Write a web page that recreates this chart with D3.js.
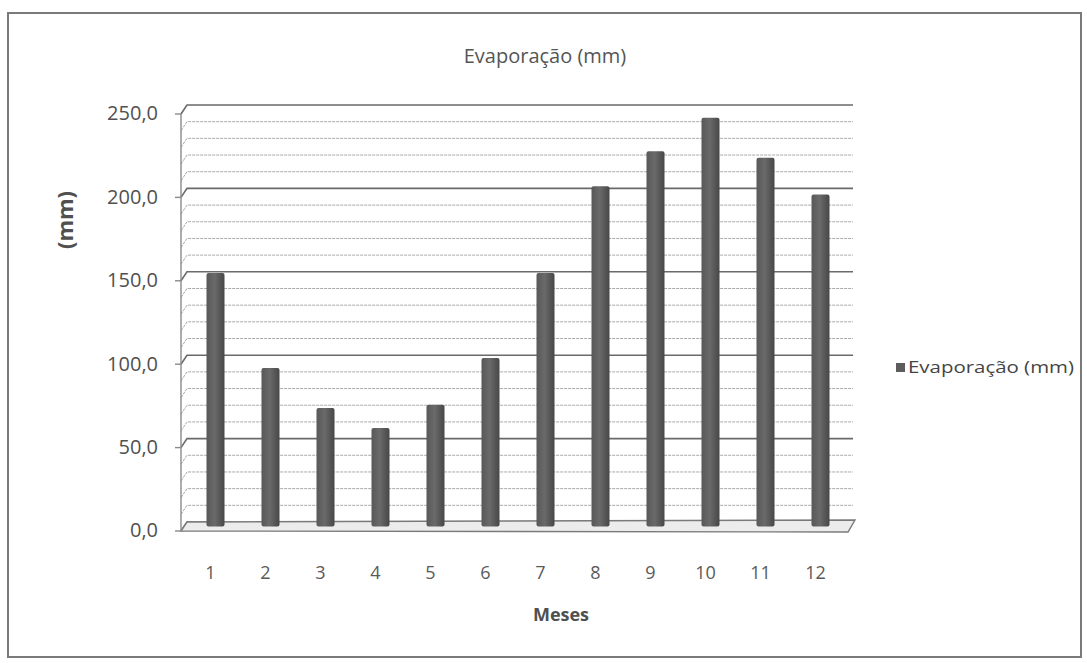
<!DOCTYPE html>
<html>
<head>
<meta charset="utf-8">
<script src="https://cdn.jsdelivr.net/npm/d3@7"></script>
<style>
  body { margin: 0; background: #fff; }
  svg { display: block; }
  text { font-family: "Open Sans", "Lato", sans-serif; }
</style>
</head>
<body>
<div id="chart"></div>
<script>
// dados do gráfico
const meses = ['1', '2', '3', '4', '5', '6', '7', '8', '9', '10', '11', '12'];
const evaporacao = [152, 95, 71, 59, 73, 101, 152, 204, 225, 245, 221, 199];
const yTicks = [0, 50, 100, 150, 200, 250];
const yGrid = d3.range(0, 251, 10);
const titulo = 'Evaporação (mm)';
const serieNome = 'Evaporação (mm)';

const width = 1087, height = 663;

const svg = d3.select('#chart').append('svg')
    .attr('width', width)
    .attr('height', height);

const defs = svg.append('defs');
const grad = defs.append('linearGradient').attr('id', 'barGrad')
    .attr('x1', '0%').attr('x2', '100%');
grad.append('stop').attr('offset', '0%').attr('stop-color', '#585858');
grad.append('stop').attr('offset', '45%').attr('stop-color', '#6a6a6a');
grad.append('stop').attr('offset', '100%').attr('stop-color', '#474747');

// moldura do gráfico
svg.append('rect')
    .attr('x', 8).attr('y', 13)
    .attr('width', 1073).attr('height', 644)
    .attr('fill', 'none')
    .attr('stroke', '#7a7a7a')
    .attr('stroke-width', 2);

// escalas
const x = d3.scaleBand().domain(meses).range([183, 843]);
const y = d3.scaleLinear().domain([0, 250]).range([531, 114]);

// deslocamento 3D (parede do fundo)
const dx = 6, dy = -9;
const wallRight = 853;

// linhas de grade
svg.append('g')
    .selectAll('path')
    .data(yGrid)
    .enter().append('path')
    .attr('d', v => `M${181},${y(v)} L${181 + dx},${y(v) + dy} L${wallRight},${y(v) + dy}`)
    .attr('fill', 'none')
    .attr('stroke', v => v % 50 === 0 ? '#6a6a6a' : '#a8a8a8')
    .attr('stroke-width', v => v % 50 === 0 ? 1.6 : 1)
    .attr('stroke-dasharray', v => v % 50 === 0 ? null : '3,1');

// piso
svg.append('path')
    .attr('d', `M181,${y(0)} L${181 + dx},${y(0) + dy} L${wallRight + 2},${y(0) + dy - 2} L${wallRight - 5},${y(0) + 1} Z`)
    .attr('fill', '#ececec')
    .attr('stroke', '#7a7a7a')
    .attr('stroke-width', 1.4);

// eixo y
const axisG = svg.append('g');
axisG.append('line')
    .attr('x1', 181).attr('x2', 181)
    .attr('y1', y(0)).attr('y2', y(250))
    .attr('stroke', '#8a8a8a').attr('stroke-width', 1.4);
axisG.selectAll('.tick')
    .data(yTicks)
    .enter().append('line')
    .attr('x1', 175).attr('x2', 181)
    .attr('y1', d => y(d)).attr('y2', d => y(d))
    .attr('stroke', '#8a8a8a').attr('stroke-width', 1.4);
axisG.selectAll('.lbl')
    .data(yTicks)
    .enter().append('text')
    .attr('x', 158)
    .attr('y', d => y(d) + 1)
    .attr('text-anchor', 'end')
    .attr('dominant-baseline', 'middle')
    .attr('font-size', 20)
    .attr('fill', '#505050')
    .text(d => d.toFixed(1).replace('.', ','));

// barras
const barW = 18;
svg.append('g')
    .selectAll('rect')
    .data(evaporacao)
    .enter().append('rect')
    .attr('x', (d, i) => x(meses[i]) + x.bandwidth() / 2 + 5 - barW / 2)
    .attr('y', d => y(d) - 4.5)
    .attr('width', barW)
    .attr('height', d => y(0) - y(d))
    .attr('rx', 2)
    .attr('fill', 'url(#barGrad)');

// rótulos do eixo x
svg.append('g')
    .selectAll('text')
    .data(meses)
    .enter().append('text')
    .attr('x', d => x(d) + x.bandwidth() / 2)
    .attr('y', 574)
    .attr('text-anchor', 'middle')
    .attr('dominant-baseline', 'middle')
    .attr('font-size', 18)
    .attr('fill', '#5a5a5a')
    .text(d => d);

// títulos
svg.append('text')
    .attr('x', 545).attr('y', 58)
    .attr('text-anchor', 'middle')
    .attr('dominant-baseline', 'middle')
    .attr('font-size', 20)
    .attr('fill', '#555')
    .text(titulo);

svg.append('text')
    .attr('x', 561).attr('y', 616)
    .attr('text-anchor', 'middle')
    .attr('dominant-baseline', 'middle')
    .attr('font-size', 18)
    .attr('font-weight', 'bold')
    .attr('fill', '#505050')
    .text('Meses');

svg.append('text')
    .attr('transform', 'translate(67,220) rotate(-90)')
    .attr('text-anchor', 'middle')
    .attr('dominant-baseline', 'middle')
    .attr('font-size', 22)
    .attr('font-weight', 'bold')
    .attr('fill', '#505050')
    .text('(mm)');

// legenda
const leg = svg.append('g');
leg.append('rect')
    .attr('x', 896).attr('y', 363)
    .attr('width', 9).attr('height', 9)
    .attr('fill', '#5c5c5c');
leg.append('text')
    .attr('x', 908).attr('y', 368)
    .attr('dominant-baseline', 'middle')
    .attr('font-size', 17)
    .attr('textLength', 166)
    .attr('lengthAdjust', 'spacingAndGlyphs')
    .attr('fill', '#444')
    .text(serieNome);
</script>
</body>
</html>
